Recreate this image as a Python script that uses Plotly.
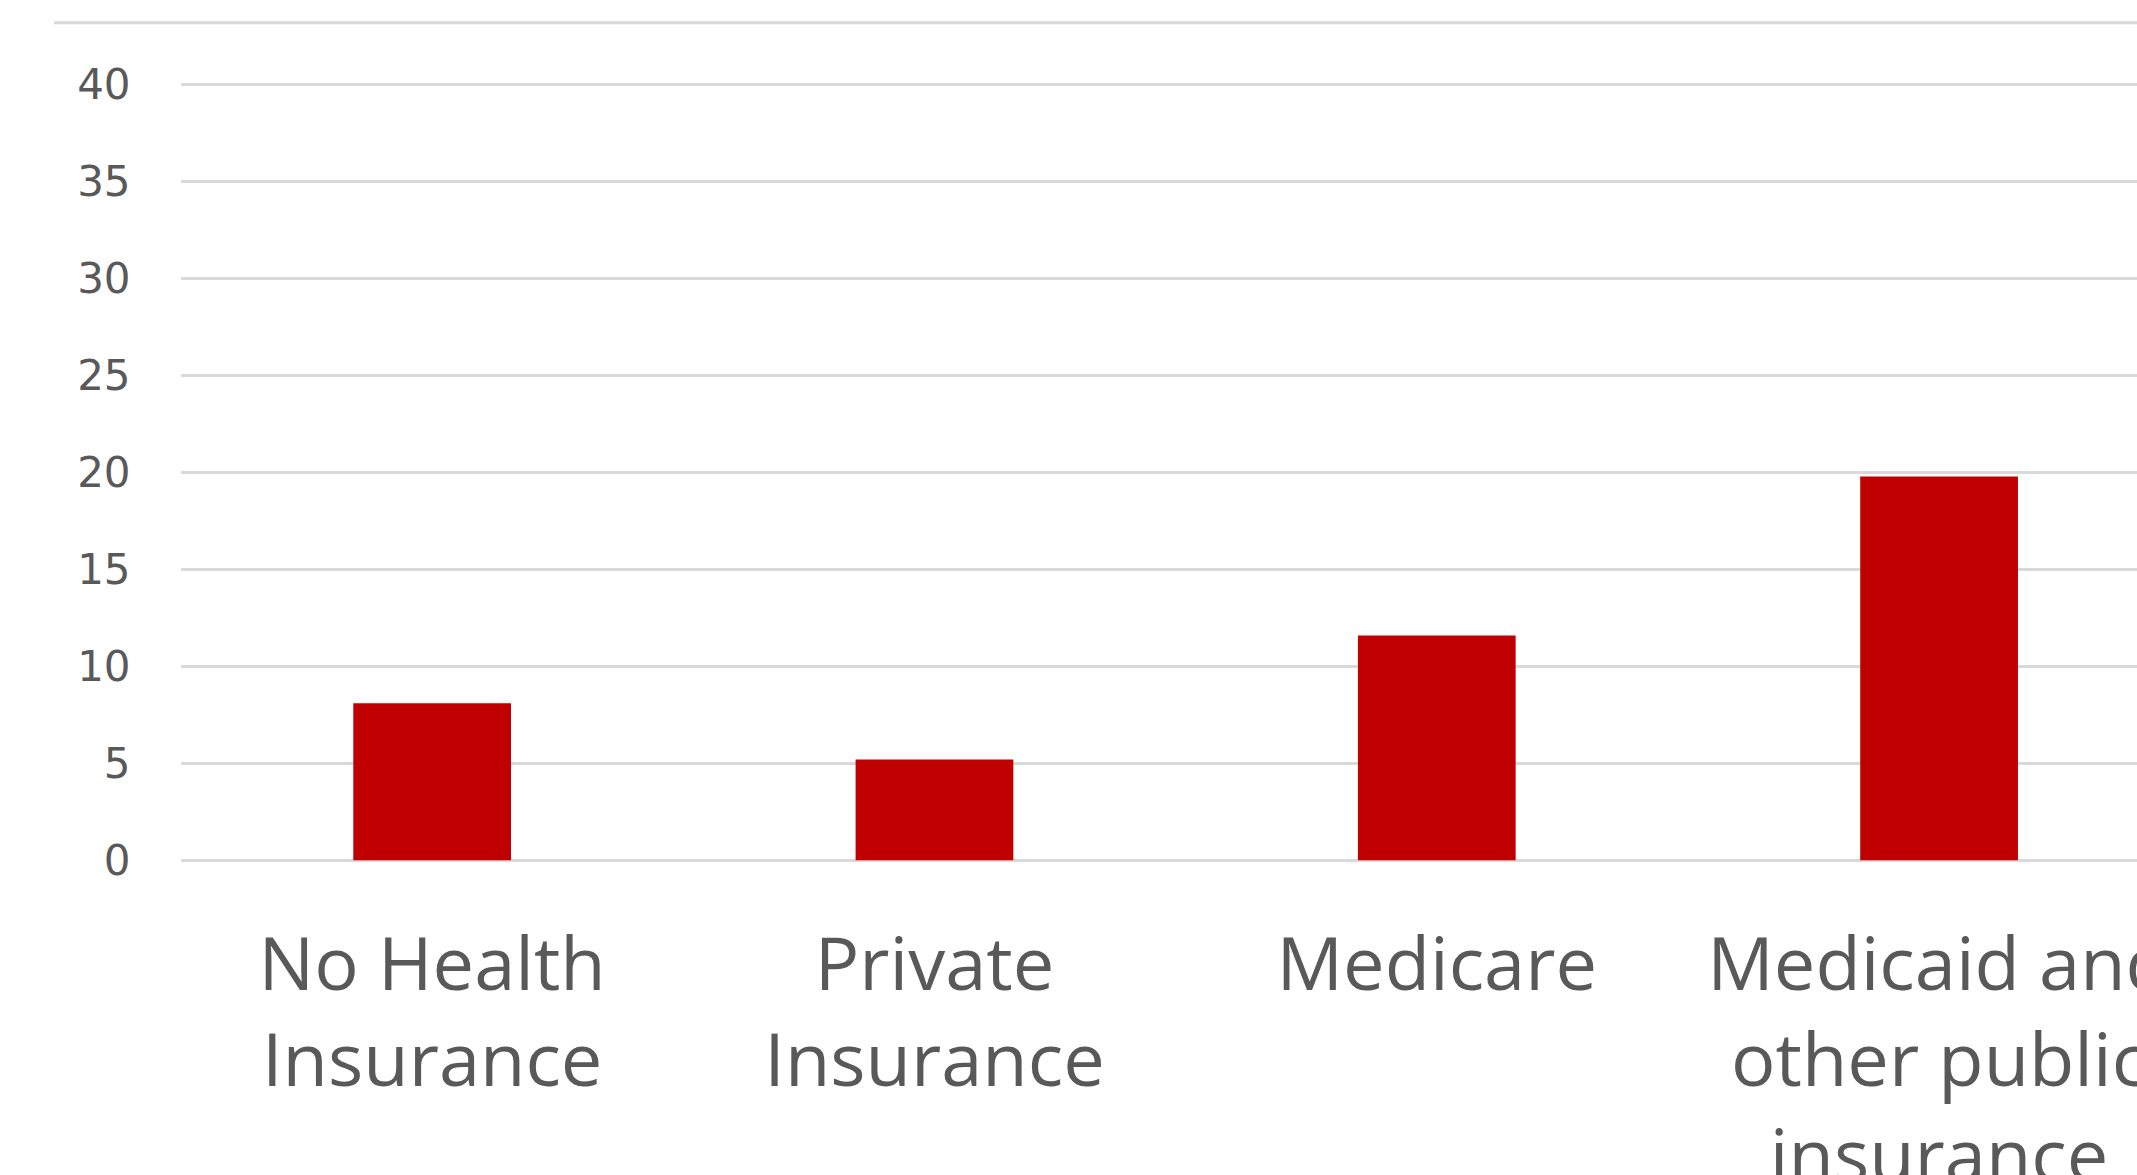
import plotly.graph_objects as go

categories = ["No Health<br>Insurance", "Private<br>Insurance", "Medicare",
              "Medicaid and<br>other public<br>insurance"]
values = [8.1, 5.2, 11.6, 19.8]
y_ticks = [0, 5, 10, 15, 20, 25, 30, 35, 40]

W, H = 2137, 1175
ML, MR, MT, MB = 181, 0, 75, 305

fig = go.Figure(go.Bar(
    x=categories, y=values,
    marker=dict(color="#C00000", line=dict(width=0)),
    width=0.314,
))

fig.update_layout(
    width=W, height=H,
    margin=dict(l=ML, r=MR, t=MT, b=MB, pad=0),
    paper_bgcolor="white", plot_bgcolor="white",
    showlegend=False,
    bargap=0.686,
)
fig.update_xaxes(
    type="category",
    range=[-0.5, 3.394],
    tickfont=dict(family="Open Sans", size=74, color="#595959"),
    tickangle=0,
    showgrid=False, zeroline=False, showline=False,
    ticks="outside", ticklen=30, tickcolor="rgba(0,0,0,0)",
    automargin=False,
)
fig.update_yaxes(
    range=[-0.5, 40.5],
    tickvals=y_ticks,
    ticktext=[str(v) for v in y_ticks],
    tickfont=dict(family="DejaVu Sans", size=42, color="#595959"),
    showgrid=True, gridcolor="#D9D9D9", gridwidth=3,
    zeroline=True, zerolinecolor="#D9D9D9", zerolinewidth=3,
    showline=False,
    ticks="outside", ticklen=41, tickcolor="rgba(0,0,0,0)",
    automargin=False,
)

pw = W - ML - MR
ph = H - MT - MB
fig.add_shape(
    type="line", xref="paper", yref="paper",
    x0=(54 - ML) / pw, x1=(W - ML) / pw,
    y0=(H - MB - 22.7) / ph, y1=(H - MB - 22.7) / ph,
    line=dict(color="#D9D9D9", width=3),
)

fig.write_html("out.html")
